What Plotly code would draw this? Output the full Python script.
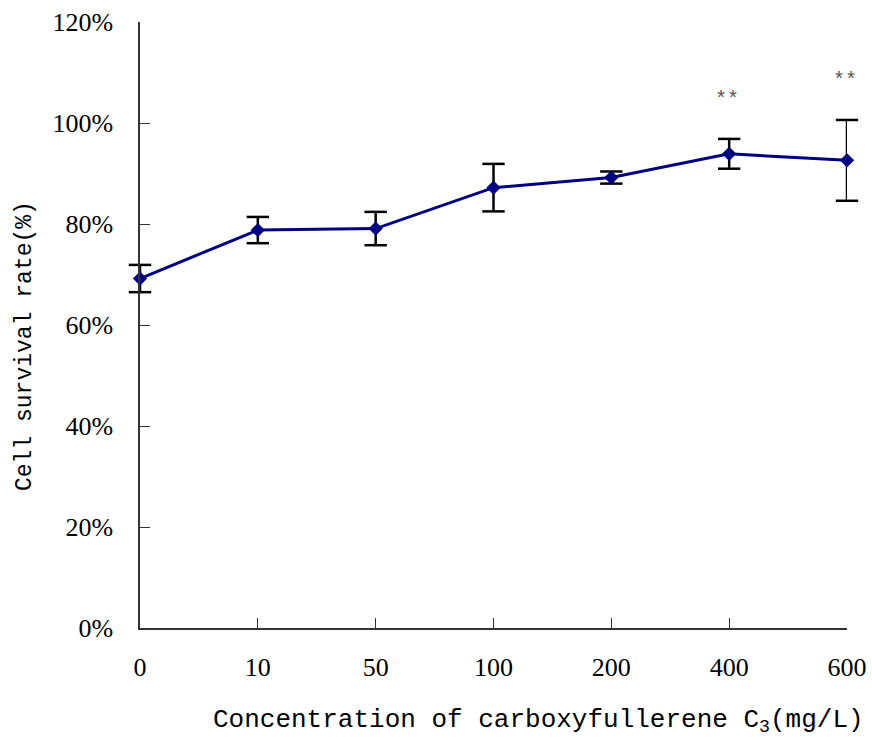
import plotly.graph_objects as go

categories = ["0", "10", "50", "100", "200", "400", "600"]
survival = [69.2, 78.8, 79.1, 87.2, 89.2, 93.9, 92.6]
errors = [2.7, 2.6, 3.3, 4.7, 1.2, 2.95, 8.0]
sig_idx = [5, 6]
sig_y = [104.6, 108.4]
sig_text = ["**", "**"]
yticks = [0, 20, 40, 60, 80, 100, 120]
ytick_text = ["0%", "20%", "40%", "60%", "80%", "100%", "120%"]

xpos = list(range(len(categories)))

fig = go.Figure()
# error stems
fig.add_trace(go.Scatter(
    x=xpos, y=survival, mode="none",
    error_y=dict(type="data", array=errors, visible=True,
                 color="black", thickness=2.5, width=0),
    showlegend=False, hoverinfo="skip",
))
# error caps (as markers so they are not clipped at the plot edges)
cap_x = xpos + xpos
cap_y = [m + e for m, e in zip(survival, errors)] + [m - e for m, e in zip(survival, errors)]
fig.add_trace(go.Scatter(
    x=cap_x, y=cap_y, mode="markers",
    marker=dict(symbol="line-ew", size=16, line=dict(color="black", width=2.5)),
    showlegend=False, cliponaxis=False, hoverinfo="skip",
))
fig.add_trace(go.Scatter(
    x=xpos, y=survival, mode="lines+markers",
    line=dict(color="#000080", width=3),
    marker=dict(symbol="diamond", size=11, color="#000080"),
    showlegend=False, cliponaxis=False,
))

for i, yv, t in zip(sig_idx, sig_y, sig_text):
    fig.add_annotation(x=i, y=yv, text=t, showarrow=False, xshift=-2,
                       font=dict(family="Liberation Mono", size=20, color="#555555"),
                       xanchor="center", yanchor="middle")

fig.update_layout(
    width=872, height=740,
    margin=dict(l=140, r=25, t=22, b=112),
    plot_bgcolor="white", paper_bgcolor="white",
    font=dict(family="Liberation Serif", color="black"),
    xaxis=dict(
        range=[0, 6], tickvals=xpos, ticktext=categories,
        showgrid=False, zeroline=False, automargin=False,
        showline=True, linecolor="#333333", linewidth=1.5,
        ticks="inside", ticklen=10, tickcolor="#333333", tickwidth=1,
        tickfont=dict(family="Liberation Serif", size=26, color="black"),
        ticklabelstandoff=15,
    ),
    yaxis=dict(
        range=[0, 120], tickvals=yticks, ticktext=ytick_text,
        showgrid=False, zeroline=False, automargin=False,
        showline=True, linecolor="#333333", linewidth=1.5,
        ticks="inside", ticklen=10, tickcolor="#333333", tickwidth=1,
        tickfont=dict(family="Liberation Serif", size=26, color="black"),
        ticklabelstandoff=20,
    ),
)

fig.add_annotation(
    xref="paper", yref="paper", x=(25 - 140) / (847 - 140), y=(628 - 346) / (628 - 22),
    text="Cell survival rate(%)", textangle=-90,
    showarrow=False, xanchor="center", yanchor="middle",
    font=dict(family="Liberation Mono", size=23, color="black"),
)

fig.add_annotation(
    xref="paper", yref="paper", x=(538 - 140) / (847 - 140), y=(628 - 721) / (628 - 22),
    text="Concentration of carboxyfullerene C<sub>3</sub>(mg/L)",
    showarrow=False, xanchor="center", yanchor="middle",
    font=dict(family="Liberation Mono", size=26, color="black"),
)

fig.write_html("out.html", config={"displayModeBar": False},
               post_script="document.body.style.margin='0px';")
